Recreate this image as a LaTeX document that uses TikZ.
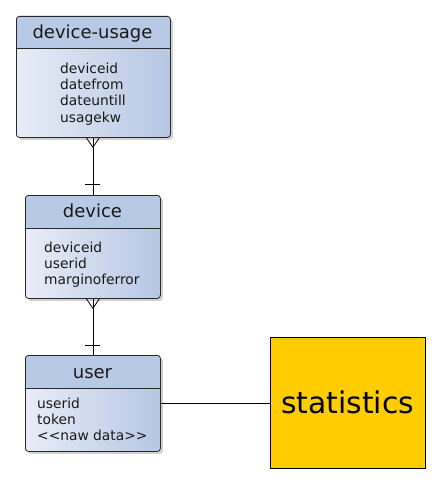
\documentclass[tikz,border=0pt]{standalone}
\usepackage{fontspec}
\setmainfont{DejaVu Sans}
\usetikzlibrary{shadows}
\definecolor{hdr}{RGB}{184,201,229}
\definecolor{bodyL}{RGB}{232,237,247}
\definecolor{bodyR}{RGB}{182,198,228}
\definecolor{stat}{RGB}{255,204,0}
\definecolor{edge}{RGB}{40,40,40}
\tikzset{
  erbox/.style={draw=edge, line width=0.8pt, rounded corners=3pt, anchor=north west,
    left color=bodyL, right color=bodyR, inner sep=0pt,
    drop shadow={shadow xshift=2.5pt, shadow yshift=-2.5pt, fill=black, opacity=0.18},
    path picture={
      \fill[hdr] (path picture bounding box.north west) rectangle ([yshift=-#1]path picture bounding box.north east);
      \draw[edge, line width=0.8pt] ([yshift=-#1]path picture bounding box.north west) -- ([yshift=-#1]path picture bounding box.north east);
    }},
  ttl/.style={anchor=base, font=\fontsize{18}{21}\selectfont, text=black!90, inner sep=0pt},
  attr/.style={anchor=base west, font=\fontsize{13.8}{16}\selectfont, text=black!90, inner sep=0pt},
  conn/.style={draw=black, line width=0.8pt},
}
\begin{document}
\begin{tikzpicture}[x=1pt,y=1pt]
\useasboundingbox (0,0) rectangle (441,-484);
% boxes
\node[erbox=32pt, minimum width=154pt, minimum height=121pt] (du) at (16,-16) {};
\node[erbox=33pt, minimum width=135pt, minimum height=103pt] (dev) at (25,-195) {};
\node[erbox=33pt, minimum width=135pt, minimum height=96pt] (usr) at (25,-355) {};
\node[draw=black, line width=0.8pt, fill=stat, anchor=north west, minimum width=155pt, minimum height=131pt, inner sep=0pt] (stats) at (270,-337) {};
% titles
\node[ttl] (dut) at (92.5,-39) {device-usage};
\node[ttl] (devt) at (92.5,-217) {device};
\node[ttl] (usrt) at (92.5,-378) {user};
\node[anchor=base, font=\fontsize{29.8}{34}\selectfont, text=black, inner sep=0pt] (statt) at (347.5,-413) {statistics};
% attributes
\node[attr] (du1) at (60,-74) {deviceid};
\node[attr] (du2) at (60,-90) {datefrom};
\node[attr] (du3) at (60,-106) {dateuntill};
\node[attr] (du4) at (60,-122) {usagekw};
\node[attr] (dev1) at (44,-252) {deviceid};
\node[attr] (dev2) at (44,-268) {userid};
\node[attr] (dev3) at (44,-284) {marginoferror};
\node[attr] (usr1) at (37,-408) {userid};
\node[attr] (usr2) at (37,-424) {token};
\node[attr] (usr3) at (37,-440) {<{}<naw data>{}>};
% connectors
\coordinate (a1) at (du.south -| dev.north);
\draw[conn] (a1) -- (dev.north);
\draw[conn] ([xshift=-6.5pt]a1) -- ([yshift=-9.5pt]a1) -- ([xshift=6.5pt]a1);
\draw[conn] ([xshift=-7.5pt,yshift=11pt]dev.north) -- ([xshift=7.5pt,yshift=11pt]dev.north);
\draw[conn] (dev.south) -- (usr.north);
\draw[conn] ([xshift=-6.5pt]dev.south) -- ([yshift=-9.5pt]dev.south) -- ([xshift=6.5pt]dev.south);
\draw[conn] ([xshift=-7.5pt,yshift=10pt]usr.north) -- ([xshift=7.5pt,yshift=10pt]usr.north);
\draw[conn] (usr.east) -- (usr.east -| stats.west);
\end{tikzpicture}
\end{document}
